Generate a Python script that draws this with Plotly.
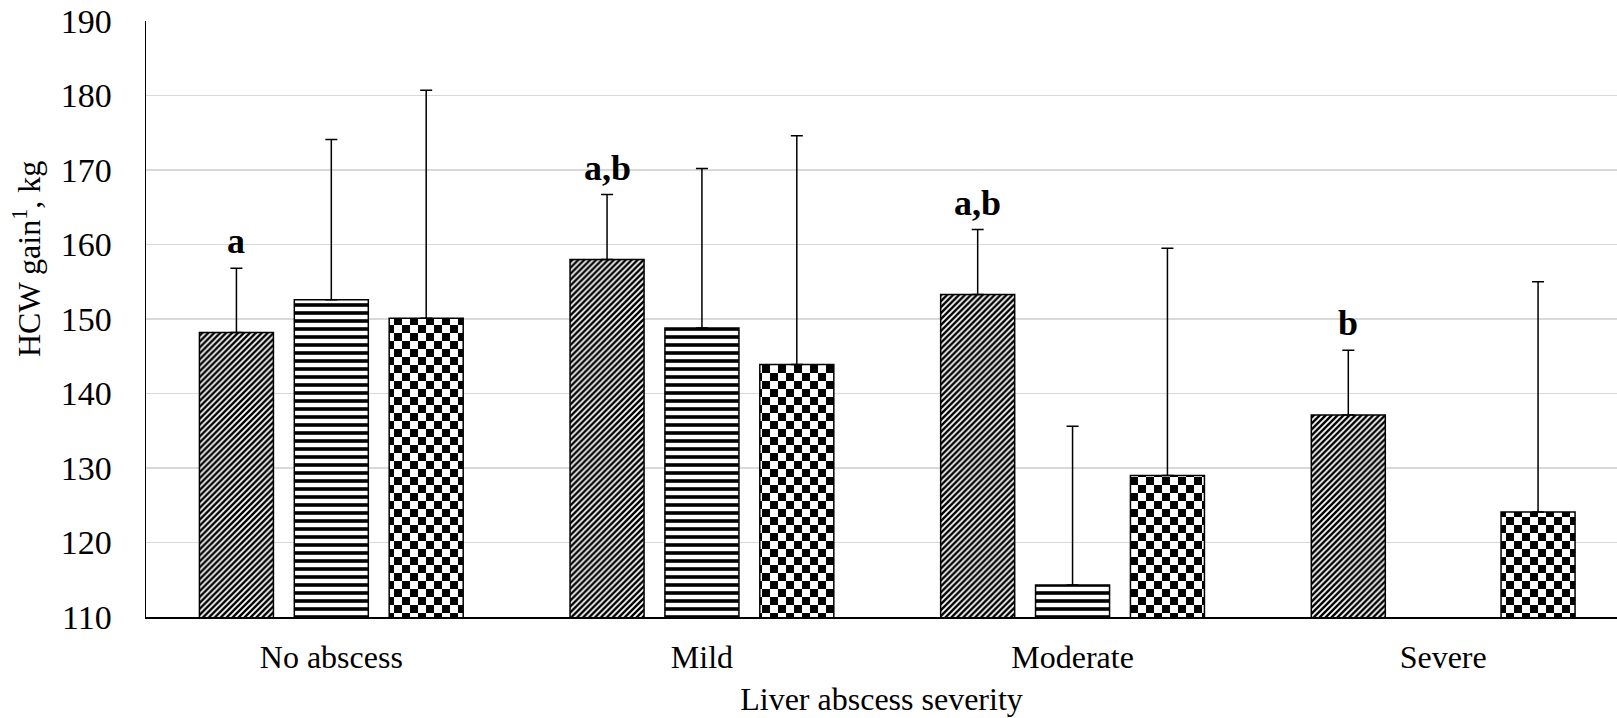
import plotly.graph_objects as go

categories = ["No abscess", "Mild", "Moderate", "Severe"]
trt1_mean = [148.2, 158.0, 153.3, 137.1]
trt1_se = [8.6, 8.7, 8.7, 8.7]
trt2_mean = [152.6, 148.8, 114.3, None]
trt2_se = [21.5, 21.4, 21.3, None]
trt3_mean = [150.1, 143.9, 129.0, 124.1]
trt3_se = [30.6, 30.7, 30.5, 30.9]
letters = ["a", "a,b", "a,b", "b"]

FONT = "Liberation Serif, Times New Roman, serif"
BARGAP = 0.232
BARGROUPGAP = 0.22

def bar(mean, se, shape, size, solidity):
    return go.Bar(
        x=categories, y=mean,
        marker=dict(color="white",
                    line=dict(color="black", width=1.5),
                    pattern=dict(shape=shape, size=size, solidity=solidity,
                                 fgcolor="black", bgcolor="white", fillmode="replace")),
        error_y=dict(type="data", array=se, arrayminus=[0] * len(se), symmetric=False,
                     color="black", thickness=1.5, width=6),
        showlegend=False,
    )

fig = go.Figure()
fig.add_trace(bar(trt1_mean, trt1_se, "/", 4.2, 0.58))
fig.add_trace(bar(trt2_mean, trt2_se, "-", 8, 0.45))
fig.add_trace(bar(trt3_mean, trt3_se, ".", 16, 0.5))

slot = (1 - BARGAP) / 3
for i, (m, s, lab) in enumerate(zip(trt1_mean, trt1_se, letters)):
    fig.add_annotation(x=i - slot, y=m + s, text="<b>" + lab + "</b>", showarrow=False,
                       xref="x", yref="y", yanchor="bottom", yshift=5,
                       font=dict(family=FONT, size=36, color="black"))

fig.add_annotation(x=0.0, xref="paper", xanchor="left", xshift=-141,
                   y=1 - (259 - 21) / 596, yref="paper", yanchor="middle",
                   text="HCW gain<sup>1</sup>, kg", textangle=-90, showarrow=False,
                   font=dict(family=FONT, size=32, color="black"))

fig.update_layout(
    width=1617, height=718,
    margin=dict(l=146, r=0, t=21, b=101),
    paper_bgcolor="white", plot_bgcolor="white",
    barmode="group", bargap=BARGAP, bargroupgap=BARGROUPGAP,
    font=dict(family=FONT, size=32, color="black"),
    xaxis=dict(type="category", range=[-0.5, 3.469], showgrid=False,
               showline=True, linecolor="black", linewidth=1.5,
               ticks="", ticklabelstandoff=11,
               tickfont=dict(family=FONT, size=32, color="black"),
               title=dict(text="Liver abscess severity", standoff=13,
                          font=dict(family=FONT, size=32, color="black"))),
    yaxis=dict(range=[110, 190], dtick=10, showgrid=True, gridcolor="#d9d9d9", gridwidth=1.5,
               showline=True, linecolor="black", linewidth=1.5, zeroline=False,
               ticks="", ticklabelstandoff=26,
               tickfont=dict(family=FONT, size=34, color="black")),
)

post = """
var gd = document.querySelector('.plotly-graph-div');
function checker(){
  var traces = gd.querySelectorAll('g.trace.bars');
  if(traces.length < 3) return;
  var paths = traces[2].querySelectorAll('path');
  var seen = {};
  var ns = 'http://www.w3.org/2000/svg';
  paths.forEach(function(p){
    var f = p.style.fill || p.getAttribute('style') || '';
    var m = /#([^'")]+)/.exec(f);
    if(!m) return;
    var id = m[1];
    if(seen[id]) return; seen[id] = 1;
    var pat = document.getElementById(id);
    if(!pat) return;
    var s = 16, h = 8;
    pat.setAttribute('width', s); pat.setAttribute('height', s);
    while(pat.firstChild) pat.removeChild(pat.firstChild);
    function r(x, y, w, hh, c){
      var e = document.createElementNS(ns, 'rect');
      e.setAttribute('x', x); e.setAttribute('y', y);
      e.setAttribute('width', w); e.setAttribute('height', hh);
      e.setAttribute('fill', c); pat.appendChild(e);
    }
    r(0, 0, s, s, '#ffffff'); r(0, 0, h, h, '#000000'); r(h, h, h, h, '#000000');
  });
}
checker();
"""

fig.write_html("out.html", post_script=post, config={"staticPlot": True})
